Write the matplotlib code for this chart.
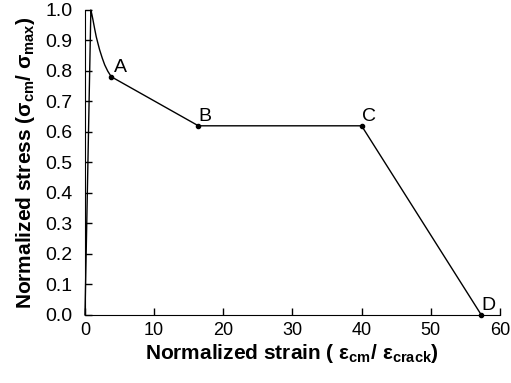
import matplotlib
matplotlib.use("Agg")
import matplotlib.pyplot as plt

plt.rcParams['font.family'] = ['Liberation Sans', 'DejaVu Sans']
plt.rcParams['mathtext.fontset'] = 'custom'
plt.rcParams['mathtext.rm'] = 'Liberation Sans'
plt.rcParams['mathtext.bf'] = 'Liberation Sans:bold'
plt.rcParams['mathtext.it'] = 'Liberation Sans:italic'

# curve: linear rise, softening drop to A, then multilinear A-B-C-D
strain = [0.0, 0.85, 1.0, 1.16, 1.4, 1.63, 1.9, 2.12, 2.5, 2.85, 3.3, 3.8, 16.4, 40.0, 57.3]
stress = [0.0, 1.0, 0.985, 0.967, 0.938, 0.912, 0.888, 0.869, 0.842, 0.82, 0.799, 0.781, 0.62, 0.62, 0.0]

pt_names = ['A', 'B', 'C', 'D']
pt_x = [3.8, 16.4, 40.0, 57.3]
pt_y = [0.781, 0.62, 0.62, 0.0]

fig = plt.figure(figsize=(5.11, 3.83), dpi=100)
ax = fig.add_axes([0.1663, 0.178, 0.812, 0.796])
ax.plot(strain, stress, color='black', lw=1.0, clip_on=False)
ax.plot(pt_x, pt_y, 'o', color='black', ms=3, clip_on=False)
for name, x, y in zip(pt_names, pt_x, pt_y):
    dx = 0.4 if name == 'A' else 0.0
    ax.text(x + dx, y + 0.003, name, fontsize=14, ha='left', va='bottom')

ax.set_xlim(0, 60)
ax.set_ylim(0, 1.0)
ax.set_xticks(range(0, 61, 10))
ax.set_yticks([i / 10 for i in range(11)])
ax.set_yticklabels(['%.1f' % (i / 10) for i in range(11)])
ax.spines['top'].set_visible(False)
ax.spines['right'].set_visible(False)
ax.tick_params(direction='in', length=5, labelsize=13, width=1)
ax.tick_params(axis='x', pad=5)
ax.tick_params(axis='y', pad=9, labelsize=14)
ax.set_xlabel(r'Normalized strain ( $\mathbf{\epsilon_{cm}}$/ $\mathbf{\epsilon_{crack}}$)',
              fontsize=15, fontweight='bold', labelpad=2)
ax.set_ylabel(r'Normalized stress ($\mathbf{σ_{cm}}$/ $\mathbf{σ_{max}}$)',
              fontsize=15, fontweight='bold', labelpad=6)
for s in ax.spines.values():
    s.set_clip_on(False)

fig.savefig('out.png', dpi=100)
